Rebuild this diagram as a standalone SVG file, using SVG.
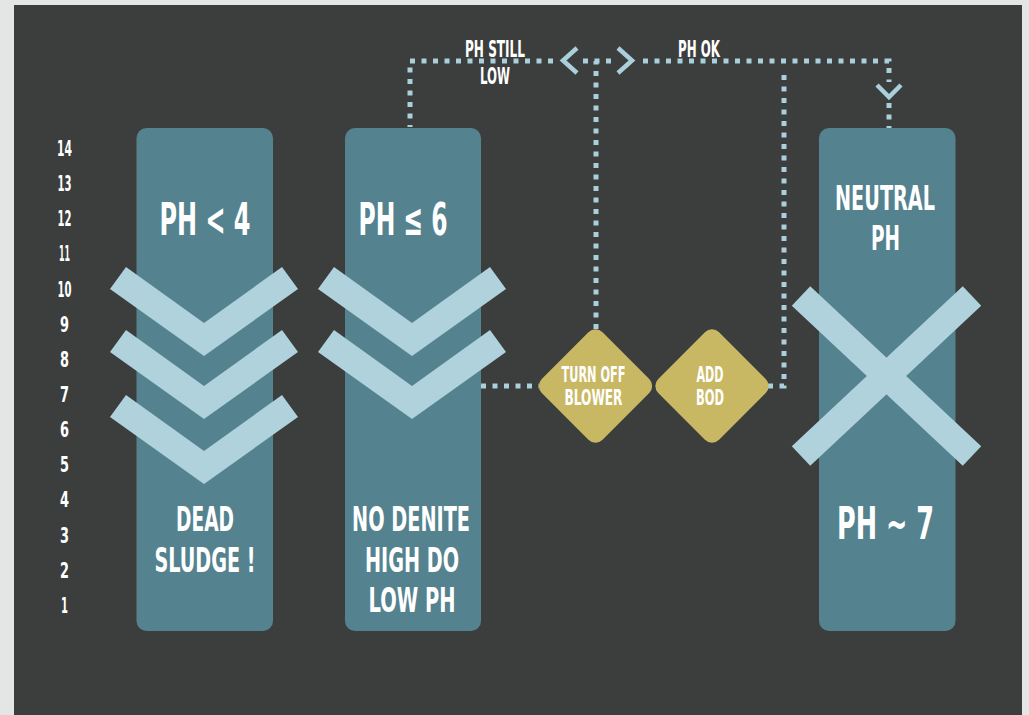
<svg xmlns="http://www.w3.org/2000/svg" width="1029" height="715" viewBox="0 0 1029 715">
  <style>
    .bg { fill: #e4e5e5; }
    .panel { fill: #3c3d3d; }
    .col { fill: #54838f; }
    .band { fill: #afd2dc; }
    .xbar { stroke: #afd2dc; stroke-width: 27; stroke-linecap: butt; fill: none; }
    .dia { fill: #c9b863; }
    .t { font-family: "Liberation Sans Narrow", "DejaVu Sans Condensed", "Liberation Sans", sans-serif; font-weight: bold; fill: #ffffff; text-anchor: middle; }
    .dot { fill: none; stroke: #a9d0db; stroke-width: 5; stroke-dasharray: 5 6.5; }
    .arr { fill: none; stroke: #a9d0db; stroke-width: 4.5; stroke-linecap: butt; stroke-linejoin: miter; }
  </style>
  <defs>
    <polygon id="chev" points="-94,22 -78,0 0,56 78,0 94,22 0,89"/>
  </defs>

  <!-- page and dark panel -->
  <rect class="bg" x="0" y="0" width="1029" height="715"/>
  <rect class="panel" x="14" y="5" width="1008" height="710"/>

  <!-- pH scale -->
  <g id="scale" class="t" font-size="22">
    <text x="64.5" y="156" textLength="15" lengthAdjust="spacingAndGlyphs">14</text>
    <text x="64.5" y="191.1" textLength="14" lengthAdjust="spacingAndGlyphs">13</text>
    <text x="64.5" y="226.3" textLength="14" lengthAdjust="spacingAndGlyphs">12</text>
    <text x="64.5" y="261.4" textLength="11" lengthAdjust="spacingAndGlyphs">11</text>
    <text x="64.5" y="296.5" textLength="14" lengthAdjust="spacingAndGlyphs">10</text>
    <text x="64.5" y="331.7" textLength="9" lengthAdjust="spacingAndGlyphs">9</text>
    <text x="64.5" y="366.8" textLength="9" lengthAdjust="spacingAndGlyphs">8</text>
    <text x="64.5" y="401.9" textLength="9" lengthAdjust="spacingAndGlyphs">7</text>
    <text x="64.5" y="437.1" textLength="9" lengthAdjust="spacingAndGlyphs">6</text>
    <text x="64.5" y="472.2" textLength="9" lengthAdjust="spacingAndGlyphs">5</text>
    <text x="64.5" y="507.3" textLength="9" lengthAdjust="spacingAndGlyphs">4</text>
    <text x="64.5" y="542.5" textLength="9" lengthAdjust="spacingAndGlyphs">3</text>
    <text x="64.5" y="577.6" textLength="9" lengthAdjust="spacingAndGlyphs">2</text>
    <text x="64.5" y="612.7" textLength="7" lengthAdjust="spacingAndGlyphs">1</text>
  </g>

  <!-- connectors -->
  <g id="connectors">
    <path class="dot" d="M481 386 H539"/>
    <path class="dot" d="M596 329 V61"/>
    <path class="dot" d="M583 61 H614"/>
    <path class="dot" d="M553 61 H410 V127"/>
    <path class="dot" d="M643 61 H889 V82"/>
    <path class="dot" d="M889 103 V128"/>
    <path class="dot" d="M768 386 H784 V70"/>
    <polyline class="arr" points="577,48 563,60.5 577,73"/>
    <polyline class="arr" points="618,48 632,60.5 618,73"/>
    <polyline class="arr" points="877,85 889,97 901,85"/>
    <g class="t" font-size="23">
      <text x="495" y="57" textLength="60" lengthAdjust="spacingAndGlyphs">PH STILL</text>
      <text x="495" y="83.5" textLength="30" lengthAdjust="spacingAndGlyphs">LOW</text>
      <text x="699" y="57" textLength="42" lengthAdjust="spacingAndGlyphs">PH OK</text>
    </g>
  </g>

  <!-- column: pH below 4 -->
  <g id="col-dead">
    <rect class="col" x="136.5" y="128" width="136.5" height="503" rx="10"/>
    <use href="#chev" class="band" x="204" y="267"/>
    <use href="#chev" class="band" x="204" y="330"/>
    <use href="#chev" class="band" x="204" y="395"/>
    <text class="t" x="205" y="235" font-size="45" textLength="91" lengthAdjust="spacingAndGlyphs">PH &lt; 4</text>
    <text class="t" x="205" y="531" font-size="34.5" textLength="58" lengthAdjust="spacingAndGlyphs">DEAD</text>
    <text class="t" x="205" y="572" font-size="34.5" textLength="101" lengthAdjust="spacingAndGlyphs">SLUDGE !</text>
  </g>

  <!-- column: pH up to 6 -->
  <g id="col-low">
    <rect class="col" x="345" y="128" width="136" height="503" rx="10"/>
    <use href="#chev" class="band" x="412" y="267"/>
    <use href="#chev" class="band" x="412" y="330"/>
    <text class="t" x="403" y="235" font-size="45" textLength="89" lengthAdjust="spacingAndGlyphs">PH ≤ 6</text>
    <text class="t" x="411" y="531" font-size="34.5" textLength="118" lengthAdjust="spacingAndGlyphs">NO DENITE</text>
    <text class="t" x="412" y="572" font-size="34.5" textLength="94" lengthAdjust="spacingAndGlyphs">HIGH DO</text>
    <text class="t" x="412" y="612" font-size="34.5" textLength="87" lengthAdjust="spacingAndGlyphs">LOW PH</text>
  </g>

  <!-- decision: turn off blower -->
  <g id="dec-blower">
    <rect class="dia" x="-43" y="-43" width="86" height="86" rx="10" transform="translate(595.5 386) rotate(45)"/>
    <text class="t" x="593.5" y="382" font-size="21" textLength="64" lengthAdjust="spacingAndGlyphs">TURN OFF</text>
    <text class="t" x="593.5" y="405" font-size="21" textLength="58" lengthAdjust="spacingAndGlyphs">BLOWER</text>
  </g>

  <!-- decision: add BOD -->
  <g id="dec-bod">
    <rect class="dia" x="-43" y="-43" width="86" height="86" rx="10" transform="translate(712 386) rotate(45)"/>
    <text class="t" x="710" y="382" font-size="21" textLength="27" lengthAdjust="spacingAndGlyphs">ADD</text>
    <text class="t" x="710" y="405" font-size="21" textLength="28" lengthAdjust="spacingAndGlyphs">BOD</text>
  </g>

  <!-- column: neutral -->
  <g id="col-neutral">
    <rect class="col" x="819" y="128" width="136.5" height="503" rx="10"/>
    <line class="xbar" x1="801" y1="296" x2="972" y2="456"/>
    <line class="xbar" x1="972" y1="296" x2="801" y2="456"/>
    <text class="t" x="885" y="209.5" font-size="34" textLength="100" lengthAdjust="spacingAndGlyphs">NEUTRAL</text>
    <text class="t" x="885.5" y="249.5" font-size="34" textLength="29" lengthAdjust="spacingAndGlyphs">PH</text>
    <text class="t" x="885.5" y="538.5" font-size="44" textLength="97" lengthAdjust="spacingAndGlyphs">PH ~ 7</text>
  </g>
</svg>
